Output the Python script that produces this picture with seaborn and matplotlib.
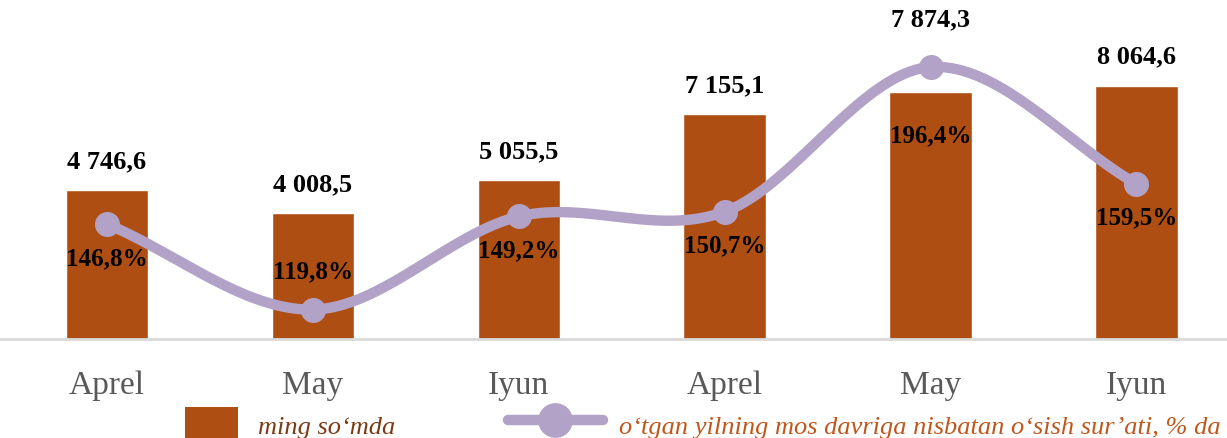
import numpy as np
import matplotlib
matplotlib.use("Agg")
import matplotlib.pyplot as plt
import seaborn as sns
from matplotlib.lines import Line2D
from matplotlib.patches import Patch

# data
months = ["Aprel", "May", "Iyun", "Aprel", "May", "Iyun"]
amounts = [4746.6, 4008.5, 5055.5, 7155.1, 7874.3, 8064.6]
growth = [146.8, 119.8, 149.2, 150.7, 196.4, 159.5]
amount_labels = ["4 746,6", "4 008,5", "5 055,5", "7 155,1", "7 874,3", "8 064,6"]
growth_labels = ["146,8%", "119,8%", "149,2%", "150,7%", "196,4%", "159,5%"]
legend_bar = "ming so‘mda"
legend_line = "o‘tgan yilning mos davriga nisbatan o‘sish sur’ati, % da"

# label offsets (points)
amt_offsets = [13, 13, 13, 13, 44, 13]
pct_offsets = [-24, 28, -24, -24, -49, -24]

BAR = "#AE4E12"
LINE = "#B3A2C7"

sns.set_theme(style="white")
plt.rcParams["font.family"] = ["Liberation Serif", "DejaVu Serif"]


def catmull_rom(xp, yp, n=40):
    # smooth line through the points, like an office "smoothed line"
    xp = np.asarray(xp, float)
    yp = np.asarray(yp, float)
    px = np.concatenate([[2 * xp[0] - xp[1]], xp, [2 * xp[-1] - xp[-2]]])
    py = np.concatenate([[2 * yp[0] - yp[1]], yp, [2 * yp[-1] - yp[-2]]])
    xs, ys = [], []
    t = np.linspace(0, 1, n)
    for i in range(1, len(px) - 2):
        for arr, out in ((px, xs), (py, ys)):
            p0, p1, p2, p3 = arr[i - 1], arr[i], arr[i + 1], arr[i + 2]
            out.extend(0.5 * ((2 * p1) + (-p0 + p2) * t
                              + (2 * p0 - 5 * p1 + 4 * p2 - p3) * t ** 2
                              + (-p0 + 3 * p1 - 3 * p2 + p3) * t ** 3))
    return np.array(xs), np.array(ys)


fig = plt.figure(figsize=(12.27, 4.39), dpi=100)
ax = fig.add_axes([0.0, 0.2255, 1.0, 0.7745])

pos = list(range(len(months)))
sns.barplot(x=pos, y=amounts, color=BAR, width=0.4, saturation=1, ax=ax)
ax.set_xlim(-0.52, 5.44)
ax.set_ylim(0, 10830)
ax.set_yticks([])
ax.set_xticks(pos)
ax.set_xticklabels(months, fontsize=24, color="#595959")
ax.tick_params(axis="x", length=0, pad=22)
for s in ["top", "right", "left"]:
    ax.spines[s].set_visible(False)
ax.spines["bottom"].set_color("#D9D9D9")
ax.spines["bottom"].set_linewidth(2)
ax.set_ylabel("")

ax2 = ax.twinx()
ax2.set_ylim(110.5, 217.9)
ax2.set_yticks([])
for s in ax2.spines.values():
    s.set_visible(False)

sx, sy = catmull_rom(pos, growth)
sns.lineplot(x=sx, y=sy, sort=False, color=LINE, linewidth=7.5, ax=ax2,
             solid_capstyle="round")
ax2.plot(pos, growth, "o", color=LINE, markersize=17, zorder=3)

# bar value labels drawn on the top axes so the line does not cover them
for x, v, lab, off in zip(pos, amounts, amount_labels, amt_offsets):
    ax2.annotate(lab, (x, v), xycoords=ax.transData, xytext=(0, off),
                 textcoords="offset points", ha="center", va="bottom",
                 fontsize=19, fontweight="bold", color="black", zorder=4)

for x, v, lab, off in zip(pos, growth, growth_labels, pct_offsets):
    ax2.annotate(lab, (x, v), xytext=(0, off), textcoords="offset points",
                 ha="center", va="center", fontsize=18, fontweight="bold",
                 color="black", zorder=4)

leg1 = fig.legend([Patch(facecolor=BAR, edgecolor="none")], [legend_bar],
                  loc="upper left", bbox_to_anchor=(0.151, 0.07), frameon=False,
                  prop={"style": "italic", "size": 19}, handlelength=2.0,
                  handleheight=1.6, handletextpad=0.75, borderaxespad=0, borderpad=0)
leg1.get_texts()[0].set_color("#7B3A12")

leg2 = fig.legend([Line2D([0], [0], color=LINE, lw=7.5, marker="o", markersize=24,
                          solid_capstyle="round")], [legend_line],
                  loc="upper left", bbox_to_anchor=(0.414, 0.07), frameon=False,
                  prop={"style": "italic", "size": 19}, handlelength=3.6,
                  handleheight=1.6, handletextpad=0.6, borderaxespad=0, borderpad=0)
leg2.get_texts()[0].set_color("#C0561A")

fig.savefig("out.png", dpi=100)
